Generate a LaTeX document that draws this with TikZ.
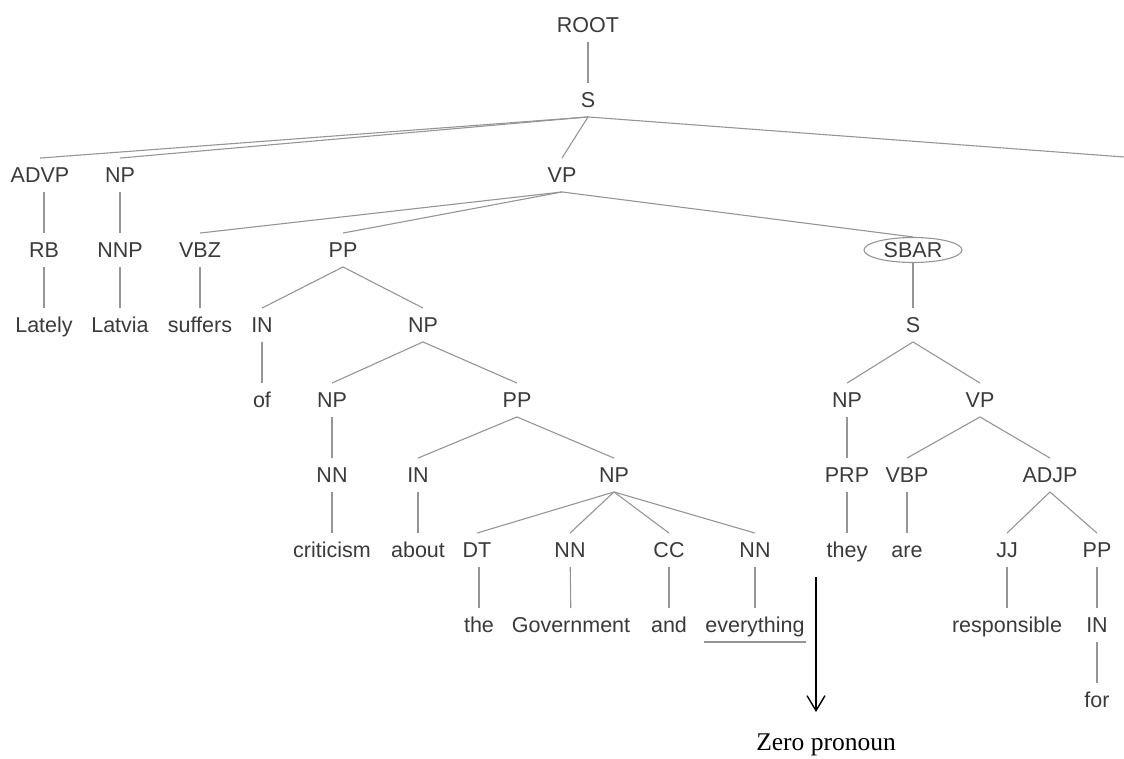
\documentclass[tikz,border=0pt]{standalone}
\usepackage{fontspec}
\setmainfont{Liberation Sans}
\newfontfamily\zerofont{Liberation Serif}
\usepackage{xcolor}
\usetikzlibrary{arrows.meta,shapes.geometric}
\definecolor{treeline}{HTML}{959595}
\definecolor{treetext}{HTML}{3A3A3A}

\begin{document}
\begin{tikzpicture}[x=1pt,y=-1pt,
  tag/.style={text=treetext,font=\fontsize{21.5}{24}\selectfont,text height=17pt,text depth=2pt,inner ysep=7.25pt,inner xsep=1pt},
  branch/.style={treeline,line width=1.1pt},
  oval/.style={ellipse,draw=treeline,line width=1.1pt,minimum width=98pt,minimum height=25pt,inner sep=0pt}]
  \useasboundingbox (0,0) rectangle (1124,758);
  \node[tag] (root) at (588,25) {ROOT};
  \node[tag] (s) at (588,100) {S};
  \coordinate (rest) at (1124,157);
  \node[tag] (advp) at (40,175) {ADVP};
  \node[tag] (np1) at (120,175) {NP};
  \node[tag] (vp1) at (562,175) {VP};
  \node[tag] (rb) at (44,250) {RB};
  \node[tag] (nnp) at (120,250) {NNP};
  \node[tag] (vbz) at (200,250) {VBZ};
  \node[tag] (pp1) at (343,250) {PP};
  \node[tag] (sbartext) at (913,250) {SBAR};
  \node[oval] (sbar) at (913,250) {};
  \node[tag] (lately) at (44,325) {Lately};
  \node[tag] (latvia) at (120,325) {Latvia};
  \node[tag] (suffers) at (200,325) {suffers};
  \node[tag] (in1) at (262,325) {IN};
  \node[tag] (np2) at (423,325) {NP};
  \node[tag] (s2) at (913,325) {S};
  \node[tag] (of) at (262,400) {of};
  \node[tag] (np3) at (332,400) {NP};
  \node[tag] (pp2) at (517,400) {PP};
  \node[tag] (np5) at (847,400) {NP};
  \node[tag] (vp2) at (980,400) {VP};
  \node[tag] (nn1) at (332,475) {NN};
  \node[tag] (in2) at (418,475) {IN};
  \node[tag] (np4) at (614,475) {NP};
  \node[tag] (prp) at (847,475) {PRP};
  \node[tag] (vbp) at (907,475) {VBP};
  \node[tag] (adjp) at (1050,475) {ADJP};
  \node[tag] (criticism) at (332,550) {criticism};
  \node[tag] (about) at (418,550) {about};
  \node[tag] (dt) at (477,550) {DT};
  \node[tag] (nn2) at (570,550) {NN};
  \node[tag] (cc) at (669,550) {CC};
  \node[tag] (nn3) at (755,550) {NN};
  \node[tag] (they) at (847,550) {they};
  \node[tag] (are) at (907,550) {are};
  \node[tag] (jj) at (1007,550) {JJ};
  \node[tag] (pp3) at (1097,550) {PP};
  \node[tag] (the) at (479,625) {the};
  \node[tag] (government) at (571,625) {Government};
  \node[tag] (and) at (669,625) {and};
  \node[tag] (everything) at (755,625) {everything};
  \node[tag] (responsible) at (1007,625) {responsible};
  \node[tag] (in3) at (1097,625) {IN};
  \node[tag] (for) at (1097,700) {for};
  \node[text=black,font=\zerofont\fontsize{25.5}{28}\selectfont,inner sep=0pt] (zero) at (826,745) {Zero pronoun};
  \coordinate (gap) at (816,577);
  \coordinate (tip) at (816,712);
  \draw[branch] (root) -- (s);
  \draw[branch] (s.south) -- (advp.north);
  \draw[branch] (s.south) -- (np1.north);
  \draw[branch] (s.south) -- (vp1.north);
  \draw[branch] (s.south) -- (rest);
  \draw[branch] (advp.south -| rb) -- (rb);
  \draw[branch] (rb) -- (lately);
  \draw[branch] (np1) -- (nnp);
  \draw[branch] (nnp) -- (latvia);
  \draw[branch] (vp1.south) -- (vbz.north);
  \draw[branch] (vp1.south) -- (pp1.north);
  \draw[branch] (vp1.south) -- (sbar.north);
  \draw[branch] (vbz) -- (suffers);
  \draw[branch] (pp1.south) -- (in1.north);
  \draw[branch] (pp1.south) -- (np2.north);
  \draw[branch] (in1) -- (of);
  \draw[branch] (np2.south) -- (np3.north);
  \draw[branch] (np2.south) -- (pp2.north);
  \draw[branch] (np3) -- (nn1);
  \draw[branch] (nn1) -- (criticism);
  \draw[branch] (pp2.south) -- (in2.north);
  \draw[branch] (pp2.south) -- (np4.north);
  \draw[branch] (in2) -- (about);
  \draw[branch] (np4.south) -- (dt.north);
  \draw[branch] (np4.south) -- (nn2.north);
  \draw[branch] (np4.south) -- (cc.north);
  \draw[branch] (np4.south) -- (nn3.north);
  \draw[branch] (dt.south -| the) -- (the);
  \draw[branch] (nn2) -- (government);
  \draw[branch] (cc) -- (and);
  \draw[branch] (nn3) -- (everything);
  \draw[branch] (everything.south west) -- (everything.south east);
  \draw[branch] (sbar.south) -- (s2.north);
  \draw[branch] (s2.south) -- (np5.north);
  \draw[branch] (s2.south) -- (vp2.north);
  \draw[branch] (np5) -- (prp);
  \draw[branch] (prp) -- (they);
  \draw[branch] (vp2.south) -- (vbp.north);
  \draw[branch] (vp2.south) -- (adjp.north);
  \draw[branch] (vbp) -- (are);
  \draw[branch] (adjp.south) -- (jj.north);
  \draw[branch] (adjp.south) -- (pp3.north);
  \draw[branch] (jj) -- (responsible);
  \draw[branch] (pp3) -- (in3);
  \draw[branch] (in3) -- (for);
  \draw[-{Straight Barb[length=15pt,width=18pt]},line width=1.4pt] (gap) -- (tip);
\end{tikzpicture}
\end{document}
